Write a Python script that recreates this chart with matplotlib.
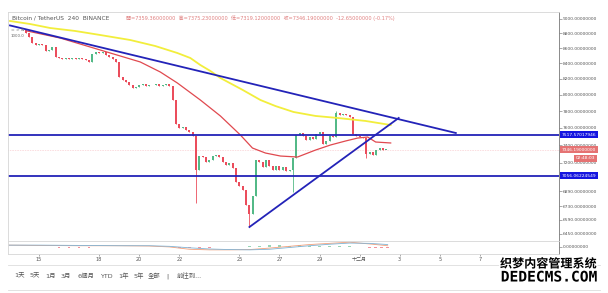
import pandas as pd
import matplotlib
matplotlib.use('Agg')
import matplotlib.pyplot as plt
import matplotlib.dates as mdates
import matplotlib.patheffects as pe
from matplotlib.ticker import FuncFormatter, NullLocator

plt.rcParams['font.family'] = ['DejaVu Sans', 'Noto Sans CJK TC']

W, H = 608, 293

# BTC/USDT 4h closes, first candle 2019-11-14 08:00
first_open = 8848
closes = [8806, 8752, 8671, 8644, 8657, 8644, 8564, 8577, 8617, 8484,
          8471, 8458, 8471, 8458, 8471, 8458, 8471, 8458, 8445, 8419,
          8524, 8550, 8537, 8550, 8511, 8484, 8458, 8419, 8224, 8187,
          8161, 8123, 8085, 8098, 8123, 8136, 8110, 8123, 8118, 8136,
          8110, 8123, 8136, 8110, 7936, 7646, 7599, 7610, 7575, 7551,
          7505, 7119, 7275, 7264, 7208, 7230, 7275, 7286, 7264, 7208,
          7174, 7196, 7141, 6987, 6943, 6900, 6742, 6649, 6836, 7230,
          7208, 7152, 7230, 7163, 7119, 7163, 7119, 7152, 7108, 7119,
          7253, 7516, 7540, 7505, 7458, 7493, 7470, 7528, 7551, 7412,
          7447, 7505, 7493, 7778, 7754, 7766, 7754, 7730, 7528, 7505,
          7493, 7481, 7298, 7321, 7286, 7343, 7366, 7343, 7346]
# visible long wicks: candle index -> (low, high)
wicks = {51: (6763, 7505), 67: (6516, 6742), 80: (6880, 7253),
         93: (7493, 7800), 102: (7253, 7481)}

# moving averages (days after 2019-11-13 00:00, price)
ma_yellow_days = [0.55, 1.55, 2.55, 3.8, 5.05, 6.55, 7.8, 8.9, 9.55, 10.05, 10.55, 11.05,
                  12.15, 13.05, 13.8, 14.7, 15.8, 16.9, 18.3, 19.55]
ma_yellow = [8972, 8930, 8875, 8834, 8779, 8711, 8630, 8537, 8471, 8379, 8302, 8212,
             8063, 7936, 7862, 7790, 7742, 7718, 7682, 7634]
ma_red_days = [1.4, 3.05, 5.05, 7.05, 8.05, 8.9, 10.05, 11.05, 12.05, 12.65, 13.3, 14.05,
               14.9, 15.8, 16.55, 17.3, 17.9, 18.4, 18.8, 19.55]
ma_red = [8834, 8738, 8577, 8419, 8289, 8149, 7936, 7742, 7516, 7366, 7309, 7275,
          7264, 7343, 7401, 7447, 7481, 7493, 7435, 7424]

# drawn lines
levels = [7517.57017946, 7056.06224549]
down_trend_days = [0.55, 22.8]
down_trend = [8910, 7540]
up_trend_days = [12.5, 19.95]
up_trend = [6516, 7718]
last_price = 7346.19

# lower indicator pane
ind_days = [0.5, 2, 4, 6, 7.5, 8.5, 9.5, 10.5, 11.5, 12.5, 13.5, 14.5, 15.5, 16.5, 17.5, 18.5, 19.4]
ind_fast = [0.3, 0.25, 0.2, 0.2, 0.15, 0.0, -0.4, -0.5, -0.5, -0.45, -0.2, 0.1, 0.4, 0.6, 0.8, 0.5, 0.2]
ind_slow = [0.3, 0.3, 0.25, 0.2, 0.2, 0.1, -0.15, -0.35, -0.45, -0.5, -0.4, -0.1, 0.2, 0.45, 0.65, 0.6, 0.4]
hist_days = [3.0, 3.5, 4.0, 4.5, 9.0, 9.5, 10.0, 10.5, 12.5, 13.0, 13.5, 14.0, 14.5,
             15.0, 15.5, 16.0, 16.5, 17.0, 17.5, 18.5, 18.8, 19.1, 19.4]
hist_vals = [-0.1, -0.1, -0.1, -0.1, -0.2, -0.25, -0.2, -0.15, 0.1, 0.2, 0.25, 0.25, 0.2,
             0.25, 0.2, 0.15, 0.15, 0.2, 0.15, -0.1, -0.15, -0.2, -0.2]

price_ticks = [9000, 8800, 8600, 8400, 8200, 8000, 7800, 7600, 7400, 7200, 6890, 6730, 6590, 6450]
date_ticks = ['2019-11-15', '2019-11-18', '2019-11-20', '2019-11-22', '2019-11-25', '2019-11-27',
              '2019-11-29', '2019-12-01', '2019-12-03', '2019-12-05', '2019-12-07']
date_labels = ['15', '18', '20', '22', '25', '27', '29', '十二月', '3', '5', '7']
ranges = ['1天', '5天', '1月', '3月', '6個月', 'YTD', '1年', '5年', '全部', '|', '前往到...']
range_x = [14, 30, 45, 61, 78, 100, 118, 133, 148, 166, 177]

up_col = '#53b987'
dn_col = '#eb4d5c'
blue = '#2323b8'

base = mdates.date2num(pd.Timestamp('2019-11-13'))
times = mdates.date2num(pd.date_range('2019-11-14 08:00', periods=len(closes), freq='4h'))
opens = [first_open] + closes[:-1]


def fx(x):
    return x / W


def fy(y):
    return 1 - y / H


fig = plt.figure(figsize=(W / 100, H / 100), dpi=100)
ax = fig.add_axes([fx(8), fy(241), 551 / W, 229 / H])
ax2 = fig.add_axes([fx(8), fy(254), 551 / W, 13 / H], sharex=ax)

ax.set_yscale('log')
ax.set_ylim(6376, 9098)
ax.set_xlim(base + 0.45, base + 27.95)

# candles
for i, (t, o, c) in enumerate(zip(times, opens, closes)):
    col = up_col if c >= o else dn_col
    lo, hi = wicks.get(i, (min(o, c), max(o, c)))
    ax.vlines(t, lo, hi, color=col, lw=0.6)
    ax.bar(t, max(abs(c - o), 9), bottom=min(o, c), width=0.1, color=col, lw=0)

ax.plot([base + d for d in ma_yellow_days], ma_yellow, color='#f2ee3c', lw=1.3)
ax.plot([base + d for d in ma_red_days], ma_red, color='#e0494f', lw=0.9)
for lv in levels:
    ax.axhline(lv, color=blue, lw=1.3)
ax.plot([base + d for d in down_trend_days], down_trend, color=blue, lw=1.3)
ax.plot([base + d for d in up_trend_days], up_trend, color=blue, lw=1.3)
ax.axhline(last_price, color=dn_col, lw=0.4, ls=(0, (1, 2)), alpha=0.6)

# price axis
ax.yaxis.tick_right()
ax.set_yticks(price_ticks)
ax.yaxis.set_minor_locator(NullLocator())
ax.yaxis.set_major_formatter(FuncFormatter(lambda v, p: f'{v:.8f}'))
ax.tick_params(axis='y', labelsize=3.2, labelcolor='#555555', color='#888888',
               length=2, width=0.5, pad=1)
ax.tick_params(axis='x', bottom=False, labelbottom=False)

yt = ax.get_yaxis_transform()
for lv in levels:
    ax.text(1.005, lv, f'{lv:.8f}', transform=yt, fontsize=3.2, color='white',
            va='center', ha='left',
            bbox=dict(boxstyle='square,pad=0.35', fc='#1515e0', ec='none'))
ax.text(1.005, last_price, f'{last_price:.8f}', transform=yt, fontsize=3.2, color='white',
        va='center', ha='left',
        bbox=dict(boxstyle='square,pad=0.35', fc='#e57373', ec='none'))
ax.annotate('02:48:03', xy=(1.066, last_price), xycoords=yt, xytext=(0, -6),
            textcoords='offset points', fontsize=3.2, color='white', va='center', ha='right',
            annotation_clip=False,
            bbox=dict(boxstyle='square,pad=0.35', fc='#e57373', ec='none'))

# indicator pane
ax2.plot([base + d for d in ind_days], ind_fast, color='#f4a07a', lw=0.6)
ax2.plot([base + d for d in ind_days], ind_slow, color='#7fb3d5', lw=0.6)
ax2.bar([base + d for d in hist_days], hist_vals, width=0.12,
        color=[up_col if v > 0 else dn_col for v in hist_vals], alpha=0.6)
ax2.set_ylim(-1.2, 1.0)
ax2.yaxis.tick_right()
ax2.set_yticks([0])
ax2.set_yticklabels(['0.00000000'])
ax2.tick_params(axis='y', labelsize=3.2, labelcolor='#555555', color='#888888',
                length=2, width=0.5, pad=1)
ax2.set_xticks(mdates.date2num(pd.to_datetime(date_ticks)))
ax2.set_xticklabels(date_labels)
ax2.tick_params(axis='x', labelsize=3.6, labelcolor='#555555', color='#888888',
                length=1.5, width=0.5, pad=0.5)

for a in (ax, ax2):
    for s in ('top', 'left', 'bottom'):
        a.spines[s].set_color('#d6d6d6')
        a.spines[s].set_linewidth(0.6)
    a.spines['right'].set_color('#777777')
    a.spines['right'].set_linewidth(0.6)

# legend overlay
fig.text(fx(12), fy(18), 'Bitcoin / TetherUS  240  BINANCE', fontsize=4.2,
         color='#555555', va='center')
fig.text(fx(126), fy(18),
         '開=7359.36000000  高=7375.23000000  低=7319.12000000  收=7346.19000000  -12.65000000 (-0.17%)',
         fontsize=3.6, color='#e08080', va='center')
fig.text(fx(11), fy(30), '= > &', fontsize=3.2, color='#666666', va='center')
fig.text(fx(11), fy(36), '1000.0', fontsize=2.8, color='#666666', va='center')

# bottom toolbar
fig.add_artist(plt.Line2D([fx(8), fx(600)], [fy(265), fy(265)], color='#dddddd', lw=0.6))
fig.add_artist(plt.Line2D([fx(8), fx(600)], [fy(290), fy(290)], color='#dddddd', lw=0.6))
for lab, xp in zip(ranges, range_x):
    fig.text(fx(xp), fy(276), lab, fontsize=4.6, color='#555555', va='center')

# watermark
fig.text(fx(597), fy(264), '织梦内容管理系统', fontsize=8.7, fontweight='bold',
         family=['Noto Sans CJK SC'], ha='right', va='center', color='black',
         path_effects=[pe.withStroke(linewidth=2, foreground='white')])
fig.text(fx(597), fy(277), 'DEDECMS.COM', fontsize=10.5, fontweight='bold',
         family=['DejaVu Sans Mono'], ha='right', va='center', color='black',
         path_effects=[pe.withStroke(linewidth=2, foreground='white')])

fig.savefig('out.png', dpi=100)
